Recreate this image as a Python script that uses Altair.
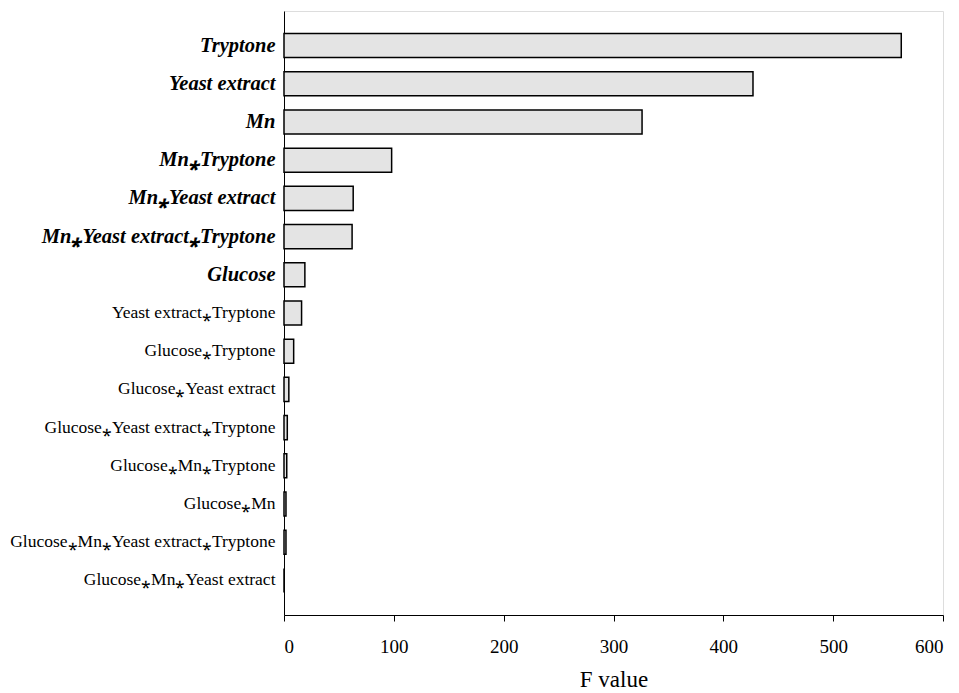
import altair as alt
import pandas as pd

AST = "\u204e"
terms = [
    "Tryptone",
    "Yeast extract",
    "Mn",
    f"Mn{AST}Tryptone",
    f"Mn{AST}Yeast extract",
    f"Mn{AST}Yeast extract{AST}Tryptone",
    "Glucose",
    f"Yeast extract{AST}Tryptone",
    f"Glucose{AST}Tryptone",
    f"Glucose{AST}Yeast extract",
    f"Glucose{AST}Yeast extract{AST}Tryptone",
    f"Glucose{AST}Mn{AST}Tryptone",
    f"Glucose{AST}Mn",
    f"Glucose{AST}Mn{AST}Yeast extract{AST}Tryptone",
    f"Glucose{AST}Mn{AST}Yeast extract",
]
f_values = [562, 427, 326, 98, 63, 62, 19, 16, 8.8, 4.4, 3.0, 2.5, 1.8, 1.8, 0]
significant = terms[:7]

df = pd.DataFrame({"term": terms, "F": f_values})

sig_js = "[" + ",".join("'" + t + "'" for t in significant) + "]"
test = f"indexof({sig_js}, datum.value) >= 0"

y_axis = alt.Axis(
    title=None,
    ticks=False,
    domain=True,
    domainColor="black",
    labelPadding=9,
    labelLimit=400,
    labelFont="Liberation Serif",
    labelColor="black",
    labelFontSize={"condition": {"test": test, "value": 20.5}, "value": 17.5},
    labelFontWeight={"condition": {"test": test, "value": "bold"}, "value": "normal"},
    labelFontStyle={"condition": {"test": test, "value": "italic"}, "value": "normal"},
)

x_axis = alt.Axis(
    title="F value",
    values=[0, 100, 200, 300, 400, 500, 600],
    grid=False,
    domainColor="black",
    tickColor="black",
    tickSize=6,
    labelFont="Liberation Serif",
    labelFontSize=19,
    labelColor="black",
    labelPadding=16,
    titleFont="Liberation Serif",
    titleFontSize=23,
    titleFontWeight="normal",
    titleColor="black",
    titlePadding=12,
)

chart = (
    alt.Chart(df)
    .mark_bar(fill="#e4e4e4", stroke="black", strokeWidth=1.5)
    .encode(
        x=alt.X("F:Q", scale=alt.Scale(domain=[0, 600], nice=False), axis=x_axis),
        y=alt.Y(
            "term:N",
            sort=terms,
            scale=alt.Scale(paddingInner=0.37, paddingOuter=0.59),
            axis=y_axis,
        ),
    )
    .properties(
        width=659,
        height=604,
        autosize=alt.AutoSizeParams(type="none"),
        padding={"left": 276, "top": 3, "right": 8, "bottom": 90},
    )
    .configure_view(stroke="black", strokeWidth=1.5)
    .configure(background="white")
)

chart.save("out.html", embed_options={"renderer": "svg", "actions": False})
